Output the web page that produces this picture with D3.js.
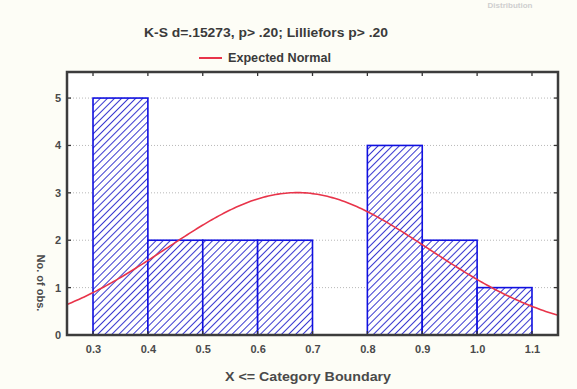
<!DOCTYPE html>
<html>
<head>
<meta charset="utf-8">
<script src="https://cdn.jsdelivr.net/npm/d3@7"></script>
<style>
  html, body { margin: 0; padding: 0; background: #fdfdf6; }
  svg { display: block; }
  text { font-family: "Liberation Sans", Arial, sans-serif; }
</style>
</head>
<body>
<svg id="chart" width="577" height="389"></svg>
<script>
// Histogram bins: upper category boundaries and counts
const binUpper = [0.4, 0.5, 0.6, 0.7, 0.8, 0.9, 1.0, 1.1];
const binCounts = [5, 2, 2, 2, 0, 4, 2, 1];
const binWidth = 0.1;

// Axis tick labels
const xTickValues = [0.3, 0.4, 0.5, 0.6, 0.7, 0.8, 0.9, 1.0, 1.1];
const xTickLabels = ["0.3", "0.4", "0.5", "0.6", "0.7", "0.8", "0.9", "1.0", "1.1"];
const yTickValues = [0, 1, 2, 3, 4, 5];
const yTickLabels = ["0", "1", "2", "3", "4", "5"];

// Fitted normal distribution parameters
const normalMean = 0.672;
const normalSd = 0.239;

const titleText = "K-S d=.15273, p> .20; Lilliefors p> .20";
const legendText = "Expected Normal";
const xTitle = "X <= Category Boundary";
const yTitle = "No. of obs.";

const svg = d3.select("#chart");
const plotLeft = 67, plotRight = 558, plotTop = 72, plotBottom = 335;

const x = d3.scaleLinear().domain([0.2526, 1.1474]).range([plotLeft, plotRight]);
const y = d3.scaleLinear().domain([0, 5.55]).range([plotBottom, plotTop]);

// faint caption at the top edge
svg.append("text").attr("x", 510).attr("y", 8).attr("text-anchor", "middle")
  .attr("font-size", 8).attr("font-weight", "bold").attr("fill", "#cfcfcf")
  .text("Distribution");

// plot area background
svg.append("rect").attr("x", plotLeft).attr("y", plotTop)
  .attr("width", plotRight - plotLeft).attr("height", plotBottom - plotTop).attr("fill", "#ffffff");

// hatch pattern for the bars
const defs = svg.append("defs");
const pat = defs.append("pattern").attr("id", "hatch")
  .attr("patternUnits", "userSpaceOnUse").attr("width", 5).attr("height", 5)
  .attr("patternTransform", "rotate(45)");
pat.append("rect").attr("width", 5).attr("height", 5).attr("fill", "#ffffff");
pat.append("line").attr("x1", 0).attr("y1", 0).attr("x2", 0).attr("y2", 5)
  .attr("stroke", "#3a3ad0").attr("stroke-width", 2);

// horizontal dotted grid lines
svg.append("g").selectAll("line").data(yTickValues.filter(d => d > 0)).join("line")
  .attr("x1", plotLeft).attr("x2", plotRight)
  .attr("y1", d => y(d)).attr("y2", d => y(d))
  .attr("stroke", "#b8b8b8").attr("stroke-width", 1).attr("stroke-dasharray", "1,2");

// bars
const bars = binUpper.map((u, i) => ({ lo: u - binWidth, hi: u, n: binCounts[i] }))
  .filter(d => d.n > 0);
svg.append("g").selectAll("rect").data(bars).join("rect")
  .attr("x", d => x(d.lo)).attr("width", d => x(d.hi) - x(d.lo))
  .attr("y", d => y(d.n)).attr("height", d => y(0) - y(d.n))
  .attr("fill", "url(#hatch)").attr("stroke", "#1010e0").attr("stroke-width", 1.6);

// expected normal curve scaled to counts
const total = d3.sum(binCounts);
const pdf = v => Math.exp(-0.5 * ((v - normalMean) / normalSd) ** 2) / (normalSd * Math.sqrt(2 * Math.PI));
const xs = d3.range(0, 201).map(i => x.domain()[0] + (x.domain()[1] - x.domain()[0]) * i / 200);
const line = d3.line().x(v => x(v)).y(v => y(total * binWidth * pdf(v)));
svg.append("path").datum(xs).attr("d", line)
  .attr("fill", "none").attr("stroke", "#e8344a").attr("stroke-width", 1.6);

// axes
const xAxis = d3.axisBottom(x).tickValues(xTickValues)
  .tickFormat((d, i) => xTickLabels[i]).tickSize(0).tickPadding(10);
const gx = svg.append("g").attr("transform", `translate(0,${plotBottom})`).call(xAxis);
gx.select(".domain").remove();
gx.selectAll("text").attr("font-size", 11).attr("font-weight", "bold").attr("fill", "#4a4a4a")
  .attr("font-family", "Liberation Sans, Arial, sans-serif");

const yAxis = d3.axisLeft(y).tickValues(yTickValues)
  .tickFormat((d, i) => yTickLabels[i]).tickSize(0).tickPadding(6);
const gy = svg.append("g").attr("transform", `translate(${plotLeft},0)`).call(yAxis);
gy.select(".domain").remove();
gy.selectAll("text").attr("font-size", 11).attr("font-weight", "bold").attr("fill", "#4a4a4a")
  .attr("font-family", "Liberation Sans, Arial, sans-serif");

// small tick marks on the frame
const tickG = svg.append("g").attr("stroke", "#333").attr("stroke-width", 1.3);
xTickValues.forEach(v => {
  tickG.append("line").attr("x1", x(v)).attr("x2", x(v)).attr("y1", plotTop).attr("y2", plotTop + 4);
  tickG.append("line").attr("x1", x(v)).attr("x2", x(v)).attr("y1", plotBottom).attr("y2", plotBottom - 4);
});
yTickValues.forEach(v => {
  tickG.append("line").attr("x1", plotLeft).attr("x2", plotLeft + 4).attr("y1", y(v)).attr("y2", y(v));
  tickG.append("line").attr("x1", plotRight).attr("x2", plotRight - 4).attr("y1", y(v)).attr("y2", y(v));
});

// frame
svg.append("rect").attr("x", plotLeft).attr("y", plotTop)
  .attr("width", plotRight - plotLeft).attr("height", plotBottom - plotTop)
  .attr("fill", "none").attr("stroke", "#3c3c3c").attr("stroke-width", 2.5);

// title and legend
svg.append("text").attr("x", 266).attr("y", 37).attr("text-anchor", "middle")
  .attr("font-size", 12).attr("font-weight", "bold").attr("fill", "#3a3a3a")
  .attr("textLength", 244).attr("lengthAdjust", "spacingAndGlyphs")
  .text(titleText);
svg.append("line").attr("x1", 199).attr("x2", 222).attr("y1", 58).attr("y2", 58)
  .attr("stroke", "#e8344a").attr("stroke-width", 2);
svg.append("text").attr("x", 228).attr("y", 62)
  .attr("font-size", 12).attr("font-weight", "bold").attr("fill", "#3a3a3a")
  .attr("textLength", 103).attr("lengthAdjust", "spacingAndGlyphs")
  .text(legendText);

// axis titles
svg.append("text").attr("x", 308).attr("y", 381).attr("text-anchor", "middle")
  .attr("font-size", 12).attr("font-weight", "bold").attr("fill", "#4a4a4a")
  .attr("textLength", 166).attr("lengthAdjust", "spacingAndGlyphs")
  .text(xTitle);
svg.append("text").attr("transform", "translate(37,283) rotate(90)")
  .attr("text-anchor", "middle")
  .attr("font-size", 11).attr("font-weight", "bold").attr("fill", "#4a4a4a")
  .text(yTitle);
</script>
</body>
</html>
